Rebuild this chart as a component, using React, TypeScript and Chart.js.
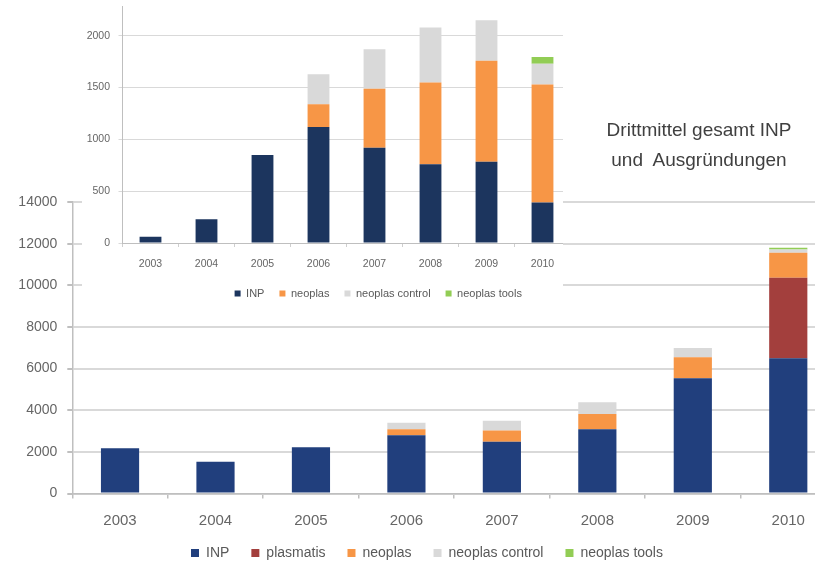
import React, { useEffect, useRef } from 'react';
import { Chart, registerables } from 'chart.js';

Chart.register(...registerables);

// ---------- data ----------
const years = ['2003', '2004', '2005', '2006', '2007', '2008', '2009', '2010'];

// main chart (Drittmittel gesamt)
const mainINP = [2170, 1530, 2220, 2800, 2490, 3080, 5530, 6500];
const mainPlasmatis = [0, 0, 0, 0, 0, 0, 0, 3860];
const mainNeoplas = [0, 0, 0, 280, 540, 740, 1010, 1200];
const mainControl = [0, 0, 0, 320, 470, 560, 450, 160];
const mainTools = [0, 0, 0, 0, 0, 0, 0, 80];
const mainYMax = 14000;
const mainYStep = 2000;

// inset chart
const insetINP = [60, 230, 850, 1120, 920, 760, 785, 390];
const insetNeoplas = [0, 0, 0, 220, 570, 790, 975, 1140];
const insetControl = [0, 0, 0, 290, 380, 530, 390, 200];
const insetTools = [0, 0, 0, 0, 0, 0, 0, 65];
const insetYMax = 2280;
const insetYTicks = [0, 500, 1000, 1500, 2000];

const titleLines = ['Drittmittel gesamt INP', 'und  Ausgründungen'];

// ---------- styles ----------
const FONT = "'Liberation Sans', Arial, sans-serif";
const C_INP = '#213f7d';
const C_INP_INSET = '#1c355e';
const C_PLASMATIS = '#a33f3d';
const C_NEOPLAS = '#f79646';
const C_CONTROL = '#d9d9d9';
const C_TOOLS = '#92cd55';
const TXT = '#666666';

function makeLegendShift(dx: number, dy: number) {
  return {
    id: 'shiftLegend',
    afterLayout(chart: any) {
      const lg = chart.legend;
      if (lg) {
        lg.left += dx;
        lg.right += dx;
        lg.top += dy;
        lg.bottom += dy;
      }
    },
  };
}

export default function App() {
  const mainRef = useRef<HTMLCanvasElement | null>(null);
  const insetRef = useRef<HTMLCanvasElement | null>(null);

  useEffect(() => {
    const mainChart = new Chart(mainRef.current as HTMLCanvasElement, {
      type: 'bar',
      data: {
        labels: years,
        datasets: [
          { label: 'INP', data: mainINP, backgroundColor: C_INP },
          { label: 'plasmatis', data: mainPlasmatis, backgroundColor: C_PLASMATIS },
          { label: 'neoplas', data: mainNeoplas, backgroundColor: C_NEOPLAS },
          { label: 'neoplas control', data: mainControl, backgroundColor: C_CONTROL },
          { label: 'neoplas tools', data: mainTools, backgroundColor: C_TOOLS },
        ],
      },
      plugins: [makeLegendShift(0, -6)],
      options: {
        responsive: false,
        animation: false,
        layout: { padding: { left: 18, top: 202, right: 0, bottom: 0 } },
        datasets: { bar: { categoryPercentage: 1, barPercentage: 0.4 } } as any,
        plugins: {
          tooltip: { enabled: false },
          legend: {
            position: 'bottom',
            labels: {
              boxWidth: 8,
              boxHeight: 8,
              padding: 22,
              color: '#595959',
              font: { size: 14, family: FONT },
            },
          },
        },
        scales: {
          x: {
            stacked: true,
            offset: true,
            grid: {
              offset: true,
              drawOnChartArea: false,
              drawTicks: true,
              tickLength: 5,
              color: '#bfbfbf',
              lineWidth: 1.5,
            },
            border: { color: '#bfbfbf', width: 1.5 },
            ticks: { color: TXT, font: { size: 15, family: FONT }, padding: 13, maxRotation: 0 },
            afterFit: (s: any) => {
              s.height = 36.5;
            },
          },
          y: {
            stacked: true,
            min: 0,
            max: mainYMax,
            ticks: {
              stepSize: mainYStep,
              color: TXT,
              font: { size: 14, family: FONT },
              padding: 10,
              callback: (v: any) => String(v),
            },
            grid: { color: '#d9d9d9', lineWidth: 2, tickLength: 5, tickColor: '#bfbfbf' },
            border: { color: '#bfbfbf', width: 1.5 },
            afterFit: (s: any) => {
              s.width = 54.3;
            },
          },
        },
      },
    });

    const insetChart = new Chart(insetRef.current as HTMLCanvasElement, {
      type: 'bar',
      data: {
        labels: years,
        datasets: [
          { label: 'INP', data: insetINP, backgroundColor: C_INP_INSET },
          { label: 'neoplas', data: insetNeoplas, backgroundColor: C_NEOPLAS },
          { label: 'neoplas control', data: insetControl, backgroundColor: C_CONTROL },
          { label: 'neoplas tools', data: insetTools, backgroundColor: C_TOOLS },
        ],
      },
      plugins: [makeLegendShift(52, 0)],
      options: {
        responsive: false,
        animation: false,
        layout: { padding: { left: 0, top: 7, right: 103.5, bottom: 9 } },
        datasets: { bar: { categoryPercentage: 1, barPercentage: 0.39 } } as any,
        plugins: {
          tooltip: { enabled: false },
          legend: {
            position: 'bottom',
            labels: {
              boxWidth: 6,
              boxHeight: 6,
              padding: 15,
              color: '#595959',
              font: { size: 11, family: FONT },
            },
          },
        },
        scales: {
          x: {
            stacked: true,
            offset: true,
            grid: {
              offset: true,
              drawOnChartArea: false,
              drawTicks: true,
              tickLength: 4,
              color: '#cfcfcf',
            },
            border: { color: '#bfbfbf', width: 1 },
            ticks: { color: TXT, font: { size: 10.5, family: FONT }, padding: 11, maxRotation: 0 },
            afterFit: (s: any) => {
              s.height = 30;
            },
          },
          y: {
            stacked: true,
            min: 0,
            max: insetYMax,
            afterBuildTicks: (s: any) => {
              s.ticks = insetYTicks.map((v) => ({ value: v }));
            },
            ticks: {
              color: TXT,
              font: { size: 10.5, family: FONT },
              padding: 8.5,
              callback: (v: any) => String(v),
            },
            grid: { color: '#d9d9d9', lineWidth: 1, tickLength: 4 },
            border: { color: '#bfbfbf', width: 1 },
            afterFit: (s: any) => {
              s.width = 40.5;
            },
          },
        },
      },
    });

    return () => {
      mainChart.destroy();
      insetChart.destroy();
    };
  }, []);

  return (
    <div
      style={{
        position: 'fixed',
        left: 0,
        top: 0,
        width: 815,
        height: 562,
        overflow: 'hidden',
        background: '#ffffff',
      }}
    >
      <canvas
        ref={mainRef}
        width={836}
        height={576}
        style={{ position: 'absolute', left: 0, top: 0, width: 836, height: 576 }}
      />
      <div
        style={{
          position: 'absolute',
          left: 599,
          top: 115,
          width: 200,
          textAlign: 'center',
          fontFamily: FONT,
          fontSize: 19,
          lineHeight: '30px',
          color: '#404040',
          whiteSpace: 'pre',
        }}
      >
        {titleLines.map((t) => (
          <div key={t}>{t}</div>
        ))}
      </div>
      <div
        style={{
          position: 'absolute',
          left: 82,
          top: 0,
          width: 481,
          height: 318,
          overflow: 'hidden',
          background: '#ffffff',
        }}
      >
        <canvas
          ref={insetRef}
          width={592}
          height={326}
          style={{ position: 'absolute', left: 0, top: -8, width: 592, height: 326 }}
        />
      </div>
    </div>
  );
}
